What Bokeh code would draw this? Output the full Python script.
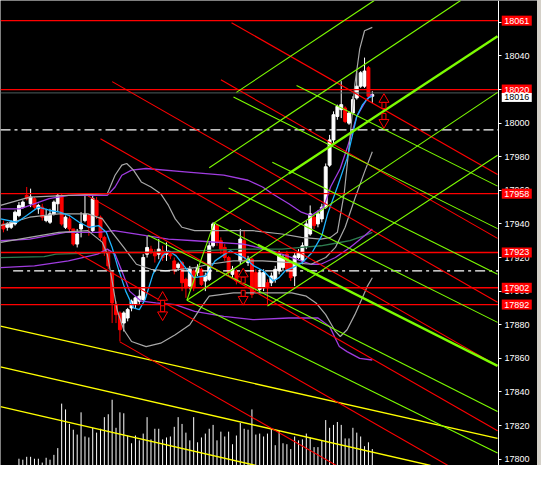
from bokeh.plotting import figure
from bokeh.models import Range1d, FixedTicker, Div
from bokeh.layouts import row
from bokeh.embed import file_html
from bokeh.resources import INLINE
from bokeh.core.properties import value

# ---------------- candles (bar index 0..95) ----------------
opens = [17940, 17938, 17938, 17940, 17945, 17950, 17957, 17952, 17955, 17949,
         17950, 17942, 17941, 17946, 17952, 17957, 17938, 17943, 17937, 17928,
         17937, 17942, 17945, 17936, 17954, 17944, 17932, 17923, 17911, 17892,
         17887, 17881, 17884, 17890, 17892, 17894, 17895, 17922, 17925, 17923,
         17922, 17924, 17922, 17922, 17918, 17914, 17917, 17907, 17903, 17912,
         17911, 17913, 17906, 17907, 17927, 17939, 17930, 17926, 17920, 17910,
         17912, 17918, 17930, 17917, 17919, 17911, 17901, 17902, 17905, 17905,
         17907, 17912, 17914, 17922, 17917, 17909, 17920, 17918, 17927, 17934,
         17944, 17940, 17943, 17950, 17975, 17990, 18004, 18008, 18009, 18000,
         18006, 18015, 18022, 18022, 18033, 18016]
highs = [17942, 17941, 17942, 17948, 17953, 17954, 17962, 17961, 17956, 17952,
         17952, 17949, 17949, 17954, 17958, 17958, 17945, 17945, 17937, 17937,
         17947, 17957, 17946, 17957, 17956, 17945, 17933, 17925, 17912, 17894,
         17888, 17888, 17890, 17895, 17897, 17901, 17922, 17933, 17927, 17925,
         17931, 17927, 17929, 17924, 17920, 17917, 17918, 17908, 17915, 17913,
         17916, 17914, 17911, 17929, 17941, 17940, 17932, 17928, 17921, 17915,
         17913, 17937, 17936, 17921, 17920, 17913, 17913, 17913, 17907, 17911,
         17915, 17924, 17922, 17924, 17918, 17923, 17925, 17929, 17942, 17951,
         17945, 17948, 17952, 17976, 17993, 18007, 18011, 18025, 18010, 18007,
         18016, 18031, 18031, 18039, 18034, 18019]
lows = [17935, 17936, 17937, 17939, 17944, 17949, 17954, 17950, 17949, 17946,
        17942, 17941, 17940, 17945, 17947, 17939, 17937, 17935, 17927, 17926,
        17932, 17941, 17933, 17935, 17943, 17930, 17921, 17913, 17881, 17881,
        17870, 17876, 17882, 17888, 17890, 17892, 17894, 17920, 17922, 17917,
        17919, 17918, 17918, 17919, 17910, 17912, 17900, 17896, 17901, 17900,
        17909, 17903, 17900, 17906, 17926, 17927, 17922, 17918, 17909, 17908,
        17904, 17916, 17918, 17915, 17896, 17900, 17899, 17900, 17892, 17903,
        17905, 17910, 17912, 17911, 17906, 17903, 17919, 17916, 17925, 17933,
        17937, 17938, 17941, 17949, 17974, 17988, 18002, 18003, 18000, 17999,
        18005, 18014, 18021, 18021, 18014, 18012]
closes = [17937, 17940, 17941, 17947, 17951, 17953, 17955, 17956, 17950, 17951,
          17944, 17945, 17946, 17953, 17957, 17940, 17944, 17937, 17928, 17934,
          17940, 17946, 17938, 17955, 17945, 17932, 17923, 17915, 17893, 17886,
          17877, 17887, 17889, 17894, 17896, 17897, 17920, 17926, 17923, 17921,
          17925, 17920, 17923, 17921, 17912, 17916, 17905, 17902, 17913, 17902,
          17914, 17904, 17909, 17927, 17940, 17929, 17925, 17920, 17911, 17913,
          17906, 17931, 17920, 17919, 17898, 17902, 17911, 17911, 17902, 17909,
          17913, 17922, 17920, 17913, 17908, 17921, 17923, 17927, 17940, 17946,
          17939, 17946, 17950, 17974, 17990, 18005, 18010, 18011, 18001, 18006,
          18014, 18022, 18030, 18031, 18016, 18017]

# volume (bars 4..95), arbitrary units
volume = [7, 6, 9, 9, 7, 7, 3, 8, 6, 11,
          18, 64, 58, 43, 37, 32, 55, 30, 29, 39,
          34, 38, 50, 53, 68, 39, 55, 54, 31, 23,
          31, 26, 33, 50, 27, 38, 38, 27, 29, 30,
          40, 50, 43, 34, 26, 50, 24, 29, 33, 38,
          42, 26, 35, 30, 35, 22, 31, 44, 38, 37,
          58, 32, 33, 30, 33, 38, 21, 36, 23, 22,
          17, 30, 26, 27, 33, 29, 19, 19, 26, 47,
          39, 42, 45, 42, 28, 28, 39, 34, 30, 20,
          24, 17]
vol_start = 4

# ---------------- indicators (bar index, price) ----------------
cyan_x = [-0.75, 3.5, 6, 9, 12, 14.5, 17, 19.5, 22, 24.5, 26.5, 28, 29.5, 31.5, 33.5, 35, 36.5, 38.5,
          41, 42.5, 44.5, 46.5, 49, 52, 54.5, 57, 58.5, 60, 62, 64.5, 67, 69.5, 71, 72.5, 74.5, 77,
          79.5, 82, 83.5, 86, 88.5, 90, 91, 92.5, 94, 95]
cyan_y = [17943, 17941, 17945, 17950, 17948, 17947, 17945, 17941, 17938, 17939, 17935, 17926, 17914,
          17900, 17890, 17889, 17895, 17910, 17921, 17924, 17921, 17915, 17908, 17909, 17918, 17922,
          17924, 17922, 17920, 17915, 17912, 17906, 17908, 17912, 17914, 17917, 17923, 17933, 17946,
          17962, 17979, 17994, 18004, 18011, 18015, 18016]

bbu_x = [-0.75, 6.75, 26.75, 28.75, 30.5, 31.75, 33.5, 35.5, 38, 40.5, 42.5, 44.25, 46, 49.25,
         56.75, 64.25, 71.75, 76.75, 81.75, 84.25, 86, 87.75, 89.25, 90.5, 91.75, 93, 95]
bbu_y = [17951, 17956, 17958, 17969, 17975, 17976, 17972, 17965, 17962, 17958, 17951, 17943, 17938,
         17936, 17936, 17936, 17934, 17932, 17931, 17932, 17935, 17958, 17991, 18023, 18044, 18055, 18057]
bbm_x = [-0.75, 6.75, 14.25, 21.75, 25.5, 28, 31, 34.25, 38, 41.75, 45.5, 49.25, 53, 59.25, 66.75,
         74.25, 79.25, 83, 85.5, 88, 90.5, 93, 95]
bbm_y = [17939, 17944, 17946, 17946, 17943, 17935, 17926, 17916, 17913, 17912, 17913, 17914, 17916,
         17918, 17918, 17917, 17916, 17920, 17926, 17938, 17955, 17971, 17983]
bbl_x = [-0.75, 6.75, 14.25, 21.75, 25.5, 26.75, 28, 29.25, 31, 33, 36.75, 40.5, 44.25, 48, 50.5, 53,
         59.25, 66.75, 74.25, 78, 80.5, 83, 85.5, 86.75, 88.5, 90.5, 92.25, 93.75, 95]
bbl_y = [17929, 17932, 17935, 17936, 17929, 17922, 17906, 17889, 17877, 17870, 17867, 17869, 17874,
         17880, 17889, 17897, 17899, 17899, 17899, 17897, 17893, 17886, 17876, 17873, 17877, 17886,
         17895, 17903, 17908]

pu_x = [-0.75, 4.25, 11.75, 16.75, 26.75, 28.75, 30.5, 33, 36.75, 46.75, 56.75, 63, 66.75, 69.25,
        73.5, 76.75, 79.25, 82.5, 84.25, 86.75, 88.5, 91, 93.5, 95]
pu_y = [17949, 17949, 17955, 17957, 17957, 17962, 17969, 17972, 17973, 17971, 17969, 17966, 17962,
        17958, 17952, 17947, 17945, 17950, 17962, 17973, 17985, 18004, 18014, 18017]
pm_x = [-0.75, 6.75, 16, 24.25, 28.5, 36.75, 42.5, 49.25, 61.75, 69.25, 74.25, 79.25, 81.75, 85.5,
        89.25, 93, 95]
pm_y = [17930, 17931, 17935, 17935, 17936, 17933, 17931, 17930, 17928, 17924, 17920, 17916, 17916,
        17920, 17926, 17933, 17937]
pl_x = [-0.75, 8, 16.75, 24.25, 26.75, 28.75, 30.5, 32.5, 35.5, 39.25, 44.25, 49.25, 56.75, 64.25,
        73.5, 81, 84, 85.25, 86.5, 88.5, 91.75, 95]
pl_y = [17914, 17915, 17918, 17922, 17925, 17922, 17912, 17900, 17894, 17893, 17892, 17888, 17885,
        17883, 17884, 17884, 17879, 17873, 17867, 17864, 17860, 17859]

ma_x = [-0.75, 10.5, 13.5, 26.75, 36.75, 49.25, 61.75, 71.75, 76.75, 81.75, 85.5, 89.25, 93, 95]
ma_y = [17920, 17920.5, 17922, 17923, 17923, 17924, 17925, 17925, 17926, 17927, 17928.5, 17930,
        17933, 17935]

# ---------------- drawn objects ----------------
red_levels = [18061, 18020, 17958, 17923, 17902, 17892]
price_line = 18018
price_label = "18016"
price_label_y = 18015.3
dashdot_levels = [17996, 17912]
dashdot_start = [-0.75, 2.5]

red_x0 = [58.75, 28, 56, 25, 21.75, 18.5, 30]
red_y0 = [18059.8, 18024.7, 18025.8, 17990.7, 17956.7, 17923.4, 17869.8]
red_x1 = [127.25, 127.25, 127.25, 127.25, 127.25, 114.5, 85.75]
red_y1 = [17969.4, 17893.4, 17931.4, 17855.5, 17816.9, 17796.2, 17796.2]

lime_x0 = [60, 53, 47.25, 68, 47.25, 75.5, 59.25, 69.25, 58, 37.25, 47.25, 54.25, 54.25]
lime_y0 = [18018.3, 17973.4, 17894.6, 17891.1, 17894.6, 18022.4, 18015.5, 17976.7, 17961.4, 17933.2,
           17894.6, 17940.6, 17940.6]
lime_x1 = [95.5, 117.75, 127.25, 127.25, 54.25, 127.25, 127.25, 127.25, 127.25, 127.25, 127.25,
           73.5, 65.5]
lime_y1 = [18073, 18073, 18018.3, 17980.9, 17940.6, 17962.5, 17937.2, 17910.1, 17881.4, 17828.4,
           17803.7, 17970.0, 17927.5]

thick_x0 = [73.5, 65.5]
thick_y0 = [17970.0, 17927.5]
thick_x1 = [127.25, 127.25]
thick_y1 = [18051.7, 17855.5]

yellow_x0 = [-0.75, -0.75, -0.75]
yellow_y0 = [17879.1, 17854.9, 17831.3]
yellow_x1 = [127.25, 110, 65]
yellow_y1 = [17812.3, 17796.2, 17796.2]

arrow_x = [41, 61.75, 98]
arrow_up_y = [17894.5, 17908.4, 18012.3]
arrow_dn_y = [17887.7, 17896.9, 18002.2]

yticks = list(range(17800, 18061, 20))

# ---------------- layout constants ----------------
X0, X_AXIS, X_END = -0.75, 127.5, 137.54     # frame covers price area + label area
LABEL_X = 132.2                              # centre of the price boxes

p = figure(frame_width=537, frame_height=465,
           x_range=Range1d(X0, X_END), y_range=Range1d(17796.2, 18073.0),
           output_backend="svg", toolbar_location=None,
           y_axis_location="right", x_axis_location=None,
           background_fill_color="black", border_fill_color="black",
           min_border_left=0, min_border_top=0, min_border_bottom=0, min_border_right=0)
p.grid.visible = False
p.outline_line_color = None
p.extra_y_ranges = {"vol": Range1d(0, 481)}

ax = p.yaxis[0]
ax.fixed_location = X_AXIS
ax.ticker = FixedTicker(ticks=yticks)
ax.axis_line_color = "white"
ax.major_tick_line_color = "white"
ax.major_tick_out = 3
ax.major_tick_in = 0
ax.minor_tick_line_color = None
ax.major_label_text_color = "white"
ax.major_label_text_font = "Liberation Sans"
ax.major_label_text_font_size = "9px"
ax.major_label_standoff = 3

# volume
vx = list(range(vol_start, vol_start + len(volume)))
p.segment(x0=vx, y0=[0] * len(vx), x1=vx, y1=volume, y_range_name="vol",
          line_color="white", line_width=1)

# candles
idx = list(range(len(opens)))
colors = ["white" if c >= o else "#ff0000" for o, c in zip(opens, closes)]
p.segment(x0=idx, y0=lows, x1=idx, y1=highs, line_color=colors, line_width=1)
p.vbar(x=idx, width=0.75, top=[max(o, c) for o, c in zip(opens, closes)],
       bottom=[min(o, c) for o, c in zip(opens, closes)],
       fill_color=colors, line_color=colors, line_width=1)

# indicators
p.line(ma_x, ma_y, line_color="#2e7d50", line_width=1.3)
p.line(pu_x, pu_y, line_color="#a03ce0", line_width=1.3)
p.line(pm_x, pm_y, line_color="#a03ce0", line_width=1.3)
p.line(pl_x, pl_y, line_color="#a03ce0", line_width=1.3)
p.line(bbu_x, bbu_y, line_color="#a8a8a8", line_width=1.2)
p.line(bbm_x, bbm_y, line_color="#a8a8a8", line_width=1.2)
p.line(bbl_x, bbl_y, line_color="#a8a8a8", line_width=1.2)
p.line(cyan_x, cyan_y, line_color="#1fb4ff", line_width=1.3)

# horizontal objects (stop at the price axis)
p.segment(x0=[X0], y0=[price_line], x1=[X_AXIS], y1=[price_line], line_color="#4e5c5c", line_width=1)
p.segment(x0=[X0] * len(red_levels), y0=red_levels, x1=[X_AXIS] * len(red_levels), y1=red_levels,
          line_color="#ff0000", line_width=1.3)
p.segment(x0=dashdot_start, y0=dashdot_levels, x1=[X_AXIS] * len(dashdot_levels), y1=dashdot_levels,
          line_color="white", line_width=1.2, line_dash="10 4 3 4")

# diagonal objects
p.segment(x0=yellow_x0, y0=yellow_y0, x1=yellow_x1, y1=yellow_y1, line_color="#ffff00", line_width=1.3)
p.segment(x0=red_x0, y0=red_y0, x1=red_x1, y1=red_y1, line_color="#ff0000", line_width=1.1)
p.segment(x0=lime_x0, y0=lime_y0, x1=lime_x1, y1=lime_y1, line_color="#7cfc00", line_width=1.1)
p.segment(x0=thick_x0, y0=thick_y0, x1=thick_x1, y1=thick_y1, line_color="#7cfc00", line_width=2.4)

# hollow arrows: stem + head
STEM = 1.8
up_stem = [y - STEM for y in arrow_up_y]
up_head = [y + STEM for y in arrow_up_y]
dn_stem = [y + STEM for y in arrow_dn_y]
dn_head = [y - STEM for y in arrow_dn_y]
p.rect(x=arrow_x + arrow_x, y=up_stem + dn_stem, width=4, height=6,
       width_units="screen", height_units="screen",
       fill_color="black", line_color="#ff0000", line_width=1)
p.scatter(x=arrow_x, y=up_head, marker="triangle", size=10,
          fill_color="black", line_color="#ff0000", line_width=1)
p.scatter(x=arrow_x, y=dn_head, marker="inverted_triangle", size=10,
          fill_color="black", line_color="#ff0000", line_width=1)

# price boxes on the axis (drawn above the axis labels)
n = len(red_levels)
box_r = p.rect(x=[LABEL_X] * n, y=red_levels, width=30, height=10,
               width_units="screen", height_units="screen",
               fill_color="#ff0000", line_color=None)
box_r.level = "overlay"
txt_r = p.text(x=[LABEL_X] * n, y=red_levels, text=[str(v) for v in red_levels],
               text_color="white", text_font=value("Liberation Sans"), text_font_size="9px",
               text_align="center", text_baseline="middle")
txt_r.level = "overlay"
box_w = p.rect(x=[LABEL_X], y=[price_label_y], width=30, height=9,
               width_units="screen", height_units="screen",
               fill_color="white", line_color=None)
box_w.level = "overlay"
txt_w = p.text(x=[LABEL_X], y=[price_label_y], text=[price_label],
               text_color="black", text_font=value("Liberation Sans"), text_font_size="9px",
               text_align="center", text_baseline="middle")
txt_w.level = "overlay"

strip = Div(width=4, height=465, styles={"background-color": "#d4d0c8"}, margin=0)
layout = row(p, strip, spacing=0)

open("out.html", "w").write(file_html(layout, INLINE))
